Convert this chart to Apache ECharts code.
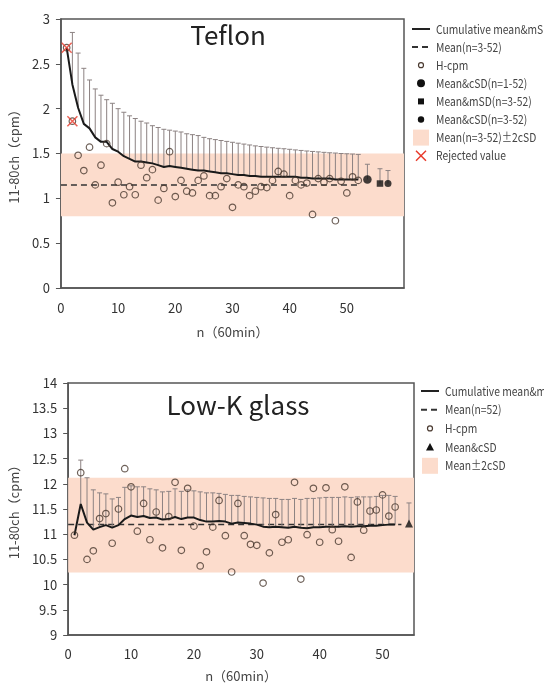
<!DOCTYPE html>
<html>
<head>
<meta charset="utf-8">
<script src="https://cdn.jsdelivr.net/npm/echarts@6/dist/echarts.min.js"></script>
<style>
html, body { margin: 0; padding: 0; background: #fff; }
#chart { width: 544px; height: 684px; }
</style>
</head>
<body>
<div id="chart"></div>
<script>
// ---- Teflon (top panel) ----
const tefHcpm = [2.68, 1.86, 1.48, 1.31, 1.57, 1.15, 1.37, 1.61, 0.95, 1.18,
  1.04, 1.13, 1.04, 1.37, 1.23, 1.32, 0.98, 1.11, 1.52, 1.02,
  1.20, 1.08, 1.06, 1.20, 1.25, 1.03, 1.03, 1.13, 1.22, 0.90,
  1.15, 1.13, 1.03, 1.08, 1.13, 1.12, 1.20, 1.30, 1.27, 1.03,
  1.20, 1.15, 1.17, 0.82, 1.22, 1.18, 1.22, 0.75, 1.19, 1.06,
  1.24, 1.20]
const tefCum = [2.68, 2.27, 2.01, 1.83, 1.78, 1.68, 1.63, 1.63, 1.55, 1.52,
  1.47, 1.44, 1.41, 1.41, 1.40, 1.39, 1.37, 1.35, 1.36, 1.35,
  1.34, 1.33, 1.32, 1.31, 1.31, 1.30, 1.29, 1.28, 1.28, 1.27,
  1.26, 1.26, 1.25, 1.25, 1.24, 1.24, 1.24, 1.24, 1.24, 1.24,
  1.24, 1.23, 1.23, 1.22, 1.22, 1.22, 1.22, 1.21, 1.21, 1.21,
  1.21, 1.21]
const tefUpper = [null, 2.85, 2.62, 2.45, 2.32, 2.22, 2.15, 2.10, 2.06, 2.00,
  1.96, 1.92, 1.89, 1.86, 1.84, 1.81, 1.79, 1.77, 1.76, 1.75,
  1.74, 1.72, 1.71, 1.70, 1.68, 1.665, 1.655, 1.645, 1.635, 1.625,
  1.615, 1.605, 1.595, 1.585, 1.578, 1.571, 1.564, 1.558, 1.553, 1.547,
  1.54, 1.534, 1.528, 1.523, 1.518, 1.513, 1.508, 1.505, 1.50, 1.497,
  1.494, 1.49]
const tefRejectedN = [1, 2]
const tefMean = 1.15
const tefBand = [0.80, 1.50]
// summary points: Mean&cSD(n=1-52), Mean&mSD(n=3-52), Mean&cSD(n=3-52)
const tefSummaryX = [53.6, 55.8, 57.2]
const tefSummaryMean = [1.21, 1.165, 1.165]
const tefSummaryUpper = [1.38, 1.33, 1.31]

// ---- Low-K glass (bottom panel) ----
const lkHcpm = [10.98, 12.22, 10.50, 10.67, 11.31, 11.41, 10.82, 11.50, 12.30, 11.94,
  11.06, 11.61, 10.89, 11.44, 10.73, 11.35, 12.03, 10.68, 11.91, 11.16,
  10.37, 10.65, 11.14, 11.67, 10.97, 10.25, 11.61, 10.97, 10.80, 10.78,
  10.03, 10.63, 11.39, 10.84, 10.89, 12.03, 10.11, 10.99, 11.91, 10.84,
  11.92, 11.09, 10.86, 11.94, 10.54, 11.64, 11.08, 11.46, 11.48, 11.78,
  11.36, 11.54]
const lkCum = [10.98, 11.60, 11.23, 11.09, 11.14, 11.18, 11.13, 11.18, 11.30, 11.37,
  11.34, 11.36, 11.32, 11.33, 11.29, 11.30, 11.34, 11.30, 11.33, 11.33,
  11.28, 11.25, 11.25, 11.26, 11.25, 11.21, 11.23, 11.22, 11.21, 11.19,
  11.15, 11.14, 11.15, 11.14, 11.13, 11.15, 11.13, 11.12, 11.14, 11.14,
  11.15, 11.15, 11.15, 11.16, 11.15, 11.16, 11.16, 11.17, 11.17, 11.18,
  11.19, 11.19]
const lkUpper = [null, 12.47, 12.12, 11.88, 11.82, 11.80, 11.70, 11.73, 11.93, 11.96,
  11.94, 11.94, 11.90, 11.88, 11.84, 11.85, 11.90, 11.85, 11.88, 11.86,
  11.84, 11.82, 11.82, 11.81, 11.79, 11.77, 11.77, 11.75, 11.74, 11.73,
  11.72, 11.71, 11.71, 11.69, 11.69, 11.71, 11.69, 11.71, 11.71, 11.72,
  11.73, 11.73, 11.73, 11.74, 11.73, 11.74, 11.74, 11.74, 11.75, 11.77,
  11.77, 11.75]
const lkMean = 11.19
const lkBand = [10.24, 12.12]
const lkSummaryX = [54.2]
const lkSummaryMean = [11.21]
const lkSummaryUpper = [11.62]

const FONT = '"Noto Sans CJK JP", "Noto Sans", sans-serif'
const BAND = '#fcdccc'
const BAR = '#8c8282'
const RING = '#4a3a30'

const pairs = (vals) => vals.map((v, i) => [i + 1, v])
const bars = (cum, upper) => upper
  .map((u, i) => [i + 1, cum[i], u])
  .filter(d => d[2] != null)

const errorBars = (axis, data, z) => ({
  type: 'custom',
  xAxisIndex: axis,
  yAxisIndex: axis,
  silent: true,
  z,
  data,
  renderItem: (params, api) => {
    const x = api.value(0)
    const lo = api.coord([x, api.value(1)])
    const hi = api.coord([x, api.value(2)])
    const st = { stroke: BAR, lineWidth: 1 }
    return {
      type: 'group',
      children: [
        { type: 'line', shape: { x1: lo[0], y1: lo[1], x2: hi[0], y2: hi[1] }, style: st },
        { type: 'line', shape: { x1: hi[0] - 2.5, y1: hi[1], x2: hi[0] + 2.5, y2: hi[1] }, style: st },
      ]
    }
  }
})

const xAxisBase = (idx, max, margin, gap) => ({
  gridIndex: idx,
  type: 'value',
  min: 0,
  max,
  interval: 10,
  name: 'n（60min）',
  nameLocation: 'middle',
  nameGap: gap,
  nameTextStyle: { fontFamily: FONT, fontSize: 13, color: '#444' },
  axisLine: { lineStyle: { color: '#555', width: 1.5 } },
  axisTick: { show: false },
  axisLabel: {
    fontFamily: FONT, fontSize: 13, color: '#333', margin,
    formatter: v => (v % 10 === 0 && v <= 50 ? String(v) : '')
  },
  splitLine: { show: false },
})

const yAxisBase = (idx, min, max) => ({
  gridIndex: idx,
  type: 'value',
  min,
  max,
  interval: 0.5,
  name: '11-80ch（cpm）',
  nameLocation: 'middle',
  nameGap: 28,
  nameTextStyle: { fontFamily: FONT, fontSize: 13, color: '#444' },
  axisLine: { show: true, lineStyle: { color: '#555', width: 1.5 } },
  axisTick: { show: true, length: 5, lineStyle: { color: '#555' } },
  axisLabel: { fontFamily: FONT, fontSize: 13, color: '#333', margin: 11 },
  splitLine: { show: false },
})

// legend drawn as plain graphics so every marker keeps its own size
const legendIcon = (kind, cx, cy) => {
  switch (kind) {
    case 'line':
      return [{ type: 'line', shape: { x1: cx - 9, y1: cy, x2: cx + 9, y2: cy }, style: { stroke: '#222', lineWidth: 2 } }]
    case 'dash':
      return [{ type: 'line', shape: { x1: cx - 9, y1: cy, x2: cx + 9, y2: cy }, style: { stroke: '#333', lineWidth: 2, lineDash: [6, 4] } }]
    case 'ring':
      return [{ type: 'circle', shape: { cx, cy, r: 2.5 }, style: { fill: 'none', stroke: RING, lineWidth: 1.2 } }]
    case 'dot':
      return [{ type: 'circle', shape: { cx, cy, r: 4 }, style: { fill: '#111' } }]
    case 'smalldot':
      return [{ type: 'circle', shape: { cx, cy, r: 3.2 }, style: { fill: '#111' } }]
    case 'square':
      return [{ type: 'rect', shape: { x: cx - 3, y: cy - 3, width: 6, height: 6 }, style: { fill: '#111' } }]
    case 'triangle':
      return [{ type: 'polygon', shape: { points: [[cx, cy - 4], [cx + 4, cy + 3.5], [cx - 4, cy + 3.5]] }, style: { fill: '#111' } }]
    case 'band':
      return [{ type: 'rect', shape: { x: cx - 8, y: cy - 8, width: 16, height: 16 }, style: { fill: BAND } }]
    case 'cross':
      return [
        { type: 'line', shape: { x1: cx - 5, y1: cy - 5, x2: cx + 5, y2: cy + 5 }, style: { stroke: '#e8392a', lineWidth: 1.5 } },
        { type: 'line', shape: { x1: cx + 5, y1: cy - 5, x2: cx - 5, y2: cy + 5 }, style: { stroke: '#e8392a', lineWidth: 1.5 } },
      ]
  }
  return []
}

const legendBlock = (x, y0, step, labels, kinds) => {
  const out = []
  labels.forEach((label, i) => {
    const cy = y0 + i * step
    out.push(...legendIcon(kinds[i], x, cy))
    out.push({
      type: 'text', x: x + 15, y: cy, scaleX: 0.86,
      style: { text: label, fill: '#444', font: `12px ${FONT}`, verticalAlign: 'middle', align: 'left' }
    })
  })
  return out
}

const tefLegendLabels = ['Cumulative mean&mSD', 'Mean(n=3-52)', 'H-cpm', 'Mean&cSD(n=1-52)',
  'Mean&mSD(n=3-52)', 'Mean&cSD(n=3-52)', 'Mean(n=3-52)±2cSD', 'Rejected value']
const tefLegendKinds = ['line', 'dash', 'ring', 'dot', 'square', 'smalldot', 'band', 'cross']
const lkLegendLabels = ['Cumulative mean&mSD', 'Mean(n=52)', 'H-cpm', 'Mean&cSD', 'Mean±2cSD']
const lkLegendKinds = ['line', 'dash', 'ring', 'triangle', 'band']

const chart = echarts.init(document.getElementById('chart'), null, { renderer: 'canvas' })

const option = {
  backgroundColor: '#fff',
  animation: false,
  textStyle: { fontFamily: FONT },
  grid: [
    { left: 54, top: 19, width: 350, height: 269, show: true, borderColor: '#555', borderWidth: 1.5, backgroundColor: 'transparent' },
    { left: 54, top: 383, width: 360, height: 255, show: true, borderColor: '#555', borderWidth: 1.5, backgroundColor: 'transparent' },
  ],
  xAxis: [xAxisBase(0, 60, 14, 38), xAxisBase(1, 55, 13, 35)],
  yAxis: [yAxisBase(0, 0, 3), yAxisBase(1, 9, 14)],
  graphic: [
    { type: 'text', x: 228, y: 35, style: { text: 'Teflon', font: `26px ${FONT}`, fill: '#222', align: 'center', verticalAlign: 'middle' } },
    { type: 'text', x: 238, y: 405, style: { text: 'Low-K glass', font: `26px ${FONT}`, fill: '#222', align: 'center', verticalAlign: 'middle' } },
    ...legendBlock(421, 29, 18.1, tefLegendLabels, tefLegendKinds),
    ...legendBlock(430, 391, 18.7, lkLegendLabels, lkLegendKinds),
  ],
  series: [
    // ---- top panel ----
    {
      type: 'line', xAxisIndex: 0, yAxisIndex: 0, z: 2,
      data: [[0, tefMean], [52, tefMean]],
      symbol: 'none',
      lineStyle: { color: '#333', width: 1.5, type: [6, 4] },
      markArea: {
        silent: true,
        itemStyle: { color: BAND },
        data: [[{ xAxis: 0, yAxis: tefBand[0] }, { xAxis: 60, yAxis: tefBand[1] }]]
      }
    },
    errorBars(0, bars(tefCum, tefUpper), 3),
    errorBars(0, tefSummaryX.map((x, i) => [x, tefSummaryMean[i], tefSummaryUpper[i]]), 3),
    {
      type: 'line', xAxisIndex: 0, yAxisIndex: 0, z: 4,
      data: pairs(tefCum), symbol: 'none',
      lineStyle: { color: '#1a1a1a', width: 2 }
    },
    {
      type: 'scatter', xAxisIndex: 0, yAxisIndex: 0, z: 5,
      data: pairs(tefHcpm), symbol: 'circle', symbolSize: 6.5,
      itemStyle: { color: 'rgba(0,0,0,0)', borderColor: RING, borderWidth: 1.2 }
    },
    {
      type: 'scatter', xAxisIndex: 0, yAxisIndex: 0, z: 6,
      data: tefRejectedN.map(k => [k, tefHcpm[k - 1]]),
      symbol: 'path://M0 0L10 10M10 0L0 10', symbolSize: 10,
      itemStyle: { color: 'rgba(0,0,0,0)', borderColor: '#e8392a', borderWidth: 1.5 }
    },
    {
      type: 'scatter', xAxisIndex: 0, yAxisIndex: 0, z: 6,
      data: [[tefSummaryX[0], tefSummaryMean[0]]], symbol: 'circle', symbolSize: 8.5,
      itemStyle: { color: '#111' }
    },
    {
      type: 'scatter', xAxisIndex: 0, yAxisIndex: 0, z: 6,
      data: [[tefSummaryX[1], tefSummaryMean[1]]], symbol: 'rect', symbolSize: 6.5,
      itemStyle: { color: '#111' }
    },
    {
      type: 'scatter', xAxisIndex: 0, yAxisIndex: 0, z: 6,
      data: [[tefSummaryX[2], tefSummaryMean[2]]], symbol: 'circle', symbolSize: 7,
      itemStyle: { color: '#111' }
    },
    // ---- bottom panel ----
    {
      type: 'line', xAxisIndex: 1, yAxisIndex: 1, z: 2,
      data: [[0, lkMean], [53, lkMean]],
      symbol: 'none',
      lineStyle: { color: '#333', width: 1.5, type: [6, 4] },
      markArea: {
        silent: true,
        itemStyle: { color: BAND },
        data: [[{ xAxis: 0, yAxis: lkBand[0] }, { xAxis: 55, yAxis: lkBand[1] }]]
      }
    },
    errorBars(1, bars(lkCum, lkUpper), 3),
    errorBars(1, lkSummaryX.map((x, i) => [x, lkSummaryMean[i], lkSummaryUpper[i]]), 3),
    {
      type: 'line', xAxisIndex: 1, yAxisIndex: 1, z: 4,
      data: pairs(lkCum), symbol: 'none',
      lineStyle: { color: '#1a1a1a', width: 2 }
    },
    {
      type: 'scatter', xAxisIndex: 1, yAxisIndex: 1, z: 5,
      data: pairs(lkHcpm), symbol: 'circle', symbolSize: 6.5,
      itemStyle: { color: 'rgba(0,0,0,0)', borderColor: RING, borderWidth: 1.2 }
    },
    {
      type: 'scatter', xAxisIndex: 1, yAxisIndex: 1, z: 6,
      data: lkSummaryX.map((x, i) => [x, lkSummaryMean[i]]), symbol: 'triangle', symbolSize: 8,
      itemStyle: { color: '#111' }
    },
  ]
}

chart.setOption(option)
</script>
</body>
</html>
